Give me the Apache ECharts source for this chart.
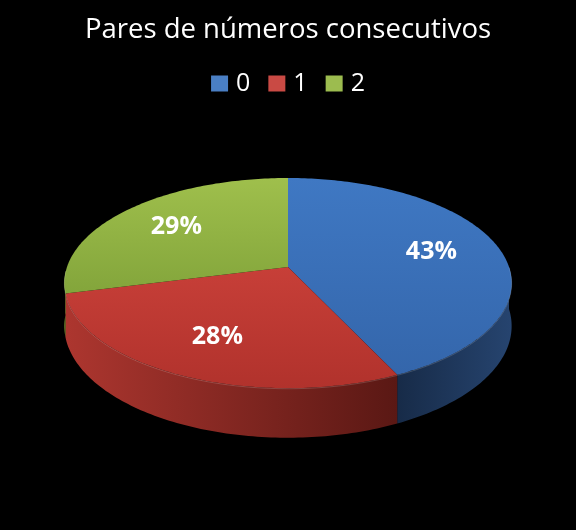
<!DOCTYPE html>
<html><head><meta charset="utf-8">
<script src="https://cdn.jsdelivr.net/npm/echarts@6/dist/echarts.min.js"></script>
<style>html,body{margin:0;padding:0;background:#000;}#c{width:576px;height:530px;}</style>
</head><body><div id="c"></div>
<script>
// ---- data ----
const categories = ['0', '1', '2'];
const values = [43, 28, 29];
const titleText = 'Pares de números consecutivos';

// ---- style ----
const topColors = [['#3f78c3', '#3466ab'], ['#c73f38', '#b1322c'], ['#9fbf4c', '#83a53b']];
const sideColors = [['#172b48', '#26446f'], ['#ad362f', '#5a1814'], ['#80a035', '#6f8f2c']];
const legendColors = ['#4a7fc4', '#c94a44', '#9cbc4f'];
const G = { cx: 288, cy: 267, rx: 221, ry: 102.6, k: 0.153, d: 42, labelF: 0.68 };

function proj(deg, f, h) {
  const t = deg * Math.PI / 180;
  const X = f * Math.sin(t), Z = f * Math.cos(t);
  const s = 1 / (1 + G.k * Z);
  return [G.cx + G.rx * X * s, G.cy - G.ry * Z * s + h * s];
}
function arc(a0, a1, h) {
  const pts = [];
  const n = Math.max(2, Math.ceil(Math.abs(a1 - a0)));
  for (let j = 0; j <= n; j++) pts.push(proj(a0 + (a1 - a0) * j / n, 1, h));
  return pts;
}
const total = values.reduce((a, b) => a + b, 0);

function makeSeries(i) {
  return {
    type: 'custom',
    name: categories[i],
    coordinateSystem: 'none',
    itemStyle: { color: legendColors[i] },
    data: [[values[i]]],
    renderItem: function (params, api) {
      const v = api.value(0);
      let before = 0;
      for (let j = 0; j < i; j++) before += values[j];
      const a0 = before / total * 360, a1 = (before + v) / total * 360;
      const children = [];
      const lo = Math.max(a0, 90), hi = Math.min(a1, 268);
      if (hi > lo) {
        const topArc = arc(lo, hi, 0), botArc = arc(hi, lo, G.d);
        children.push({
          type: 'polygon',
          shape: { points: topArc.concat(botArc) },
          style: {
            fill: new echarts.graphic.LinearGradient(0, 0, 1, 0, [
              { offset: 0, color: sideColors[i][0] }, { offset: 1, color: sideColors[i][1] }
            ])
          }
        });
      }
      const face = [[G.cx, G.cy]].concat(arc(a0, a1, 0));
      children.push({
        type: 'polygon',
        shape: { points: face },
        style: {
          fill: new echarts.graphic.LinearGradient(0, 0, 0, 1, [
            { offset: 0, color: topColors[i][0] }, { offset: 1, color: topColors[i][1] }
          ])
        }
      });
      if (hi > lo) {
        children.push({
          type: 'polyline',
          shape: { points: arc(lo, hi, 0.5) },
          style: { stroke: 'rgba(255,255,255,0.16)', lineWidth: 1, fill: null }
        });
      }
      const p = proj((a0 + a1) / 2, G.labelF, 0);
      children.push({
        type: 'text',
        x: p[0], y: p[1],
        style: {
          text: Math.round(v / total * 100) + '%',
          fill: '#fff', fontSize: 25, fontWeight: 'bold', fontFamily: 'Open Sans',
          align: 'center', verticalAlign: 'middle'
        }
      });
      return { type: 'group', children: children };
    }
  };
}

const chart = echarts.init(document.getElementById('c'));
chart.setOption({
  backgroundColor: '#000',
  animation: false,
  title: {
    text: titleText, left: 'center', top: 11,
    textStyle: { color: '#fff', fontSize: 27.5, fontWeight: 'normal', fontFamily: 'Open Sans' }
  },
  legend: {
    data: categories, left: 'center', top: 66, icon: 'rect',
    itemWidth: 17, itemHeight: 16, itemGap: 18,
    textStyle: { color: '#fff', fontSize: 25, fontFamily: 'Open Sans', padding: [0, 0, 0, 3] }
  },
  series: categories.map((c, i) => makeSeries(i))
});
</script></body></html>
